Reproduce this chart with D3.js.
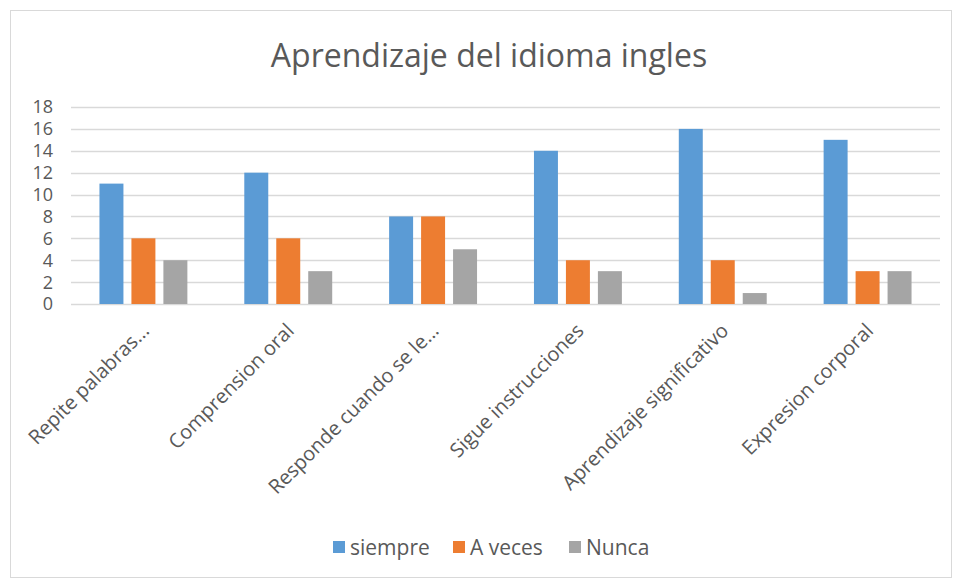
<!DOCTYPE html>
<html lang="es">
<head>
<meta charset="UTF-8">
<title>Aprendizaje del idioma ingles</title>
<script src="https://d3js.org/d3.v7.min.js"></script>
<style>
    body { margin: 0; background: #fff; }
    text { font-family: 'Open Sans', sans-serif; fill: #595959; }
</style>
</head>
<body>
<div id="chart"></div>
<script>
    const categories = ["Repite palabras...", "Comprension oral", "Responde cuando se le...",
        "Sigue instrucciones", "Aprendizaje significativo", "Expresion corporal"];
    const seriesNames = ["siempre", "A veces", "Nunca"];
    const siempre = [11, 12, 8, 14, 16, 15];
    const aVeces = [6, 6, 8, 4, 4, 3];
    const nunca = [4, 3, 5, 3, 1, 3];
    const yTicks = [0, 2, 4, 6, 8, 10, 12, 14, 16, 18];
    const colors = ["#5B9BD5", "#ED7D31", "#A5A5A5"];

    const seriesValues = [siempre, aVeces, nunca];
    const rows = categories.map((c, i) => ({
        cat: c,
        vals: seriesNames.map((s, j) => ({ key: s, value: seriesValues[j][i] }))
    }));

    const width = 953, height = 579;
    const margin = { left: 71, right: 13, top: 107, bottom: 275 };

    const svg = d3.select("#chart").append("svg")
        .attr("width", width).attr("height", height);

    // chart frame
    svg.append("rect")
        .attr("x", 10.5).attr("y", 10.5)
        .attr("width", width - 12).attr("height", height - 12)
        .attr("fill", "#fff").attr("stroke", "#D9D9D9");

    const x0 = d3.scaleBand().domain(categories)
        .range([margin.left, width - margin.right]).padding(0);
    const x1 = d3.scaleBand().domain(seriesNames)
        .range([0, x0.bandwidth()]).paddingInner(0.25).paddingOuter(0.89);
    const y = d3.scaleLinear().domain([0, 18])
        .range([height - margin.bottom, margin.top]);

    // gridlines
    svg.append("g")
        .selectAll("line").data(yTicks).join("line")
        .attr("x1", margin.left).attr("x2", width - margin.right)
        .attr("y1", d => Math.round(y(d)) + 0.5).attr("y2", d => Math.round(y(d)) + 0.5)
        .attr("stroke", "#D9D9D9").attr("stroke-width", 1.3);

    // y tick labels
    svg.append("g")
        .selectAll("text").data(yTicks).join("text")
        .attr("x", 53).attr("y", d => y(d))
        .attr("dy", "0.36em")
        .attr("text-anchor", "end")
        .style("font-size", "18px")
        .text(d => d);

    // bars
    const groups = svg.append("g")
        .selectAll("g").data(rows).join("g")
        .attr("transform", d => `translate(${x0(d.cat)},0)`);
    groups.selectAll("rect").data(d => d.vals).join("rect")
        .attr("x", d => x1(d.key))
        .attr("width", x1.bandwidth())
        .attr("y", d => y(d.value))
        .attr("height", d => y(0) - y(d.value))
        .attr("fill", (d, i) => colors[i]);

    // x labels
    svg.append("g")
        .selectAll("text").data(categories).join("text")
        .attr("transform", d => `translate(${x0(d) + x0.bandwidth() / 2 + 7},${y(0) + 28}) rotate(-45)`)
        .attr("text-anchor", "end")
        .style("font-size", "20px")
        .text(d => d);

    // title
    svg.append("text")
        .attr("x", 489).attr("y", 67)
        .attr("text-anchor", "middle")
        .style("font-size", "32px")
        .text("Aprendizaje del idioma ingles");

    // legend
    const legendX = [333, 453, 569];
    const legend = svg.append("g")
        .selectAll("g").data(seriesNames).join("g")
        .attr("transform", (d, i) => `translate(${legendX[i]},541)`);
    legend.append("rect")
        .attr("width", 12).attr("height", 12)
        .attr("fill", (d, i) => colors[i]);
    legend.append("text")
        .attr("x", 17).attr("y", 6).attr("dy", "0.36em")
        .style("font-size", "21px")
        .text(d => d);
</script>
</body>
</html>
